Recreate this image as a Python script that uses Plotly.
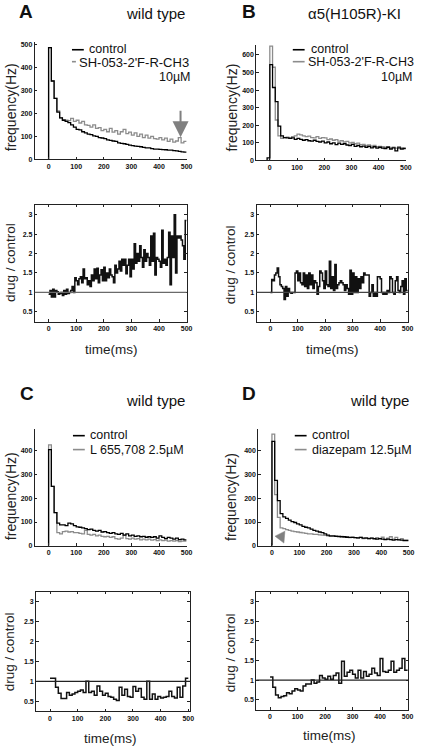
import plotly.graph_objects as go

# ---------------- data ----------------
bins10 = list(range(0, 500, 10))          # histogram bin starts (ms)
bins10_b = list(range(-10, 500, 10))      # panel B includes a pre-zero bin
bins5 = [i * 5 for i in range(100)]       # ratio bins for A and B (ms)
x_ticks = [0, 100, 200, 300, 400, 500]
ratio_ticks = [0.5, 1, 1.5, 2, 2.5, 3]
ratio_ticklabels = ["0.5", "1", "1.5", "2", "2.5", "3"]

a_control = [485, 340, 265, 205, 180, 170, 165, 160, 150, 140, 130, 128, 120, 115, 110, 108, 102, 100, 95, 93,
             90, 85, 83, 80, 78, 72, 70, 68, 65, 62, 60, 58, 57, 55, 52, 50, 50, 47, 45, 45,
             44, 43, 42, 40, 40, 38, 37, 35, 33, 32]
a_drug = [485, 340, 265, 210, 180, 172, 170, 168, 178, 165, 170, 158, 165, 150, 148, 140, 150, 135, 138, 125,
          130, 120, 135, 118, 125, 110, 120, 130, 112, 118, 105, 115, 100, 110, 95, 105, 92, 100, 90, 88,
          95, 85, 92, 78, 88, 75, 80, 95, 72, 78]
a_ratio = [0.95, 1.05, 0.88, 1.08, 0.88, 1.05, 1.02, 0.95, 0.97, 1.0,
           0.92, 1.05, 0.95, 1.08, 0.97, 1.0, 1.05, 1.15, 1.0, 1.38,
           1.3, 1.2, 1.35, 1.4, 1.25, 1.6, 1.35, 1.38, 1.2, 1.3,
           1.15, 1.45, 1.3, 1.6, 1.35, 1.62, 1.25, 1.45, 1.58, 1.3,
           1.65, 1.3, 1.5, 1.38, 1.6, 1.45, 1.4, 1.25, 1.7, 1.5,
           1.6, 1.8, 1.55, 1.85, 1.7, 1.85, 1.48, 1.7, 1.85, 1.4,
           1.85, 1.6, 2.25, 1.75, 2.0, 1.8, 2.2, 1.9, 1.65, 2.1,
           1.8, 2.0, 1.9, 1.7, 2.45, 1.8, 2.52, 1.45, 1.9, 1.85,
           1.8, 1.65, 2.6, 1.75, 1.85, 1.7, 1.9, 2.55, 1.2, 2.45,
           1.9, 3.0, 1.5, 2.45, 2.4, 2.45, 2.35, 2.2, 1.85, 2.85]

b_control = [15, 545, 415, 335, 195, 140, 130, 128, 125, 128, 120, 125, 120, 115, 118, 112, 110, 115, 108, 105, 110,
             100, 105, 95, 100, 90, 98, 92, 95, 88, 85, 92, 80, 85, 78, 82, 75, 80, 72, 78, 70,
             75, 70, 68, 75, 65, 72, 55, 72, 65, 68]
b_drug = [0, 650, 530, 230, 140, 125, 130, 132, 128, 135, 140, 150, 145, 140, 135, 138, 130, 128, 135, 125, 130,
          128, 118, 122, 115, 118, 110, 112, 105, 108, 100, 102, 95, 98, 90, 92, 85, 88, 82, 85, 78,
          80, 78, 75, 78, 72, 75, 70, 78, 72, 70]
b_ratio = [1.0, 1.33, 1.3, 1.45, 1.5, 1.63, 1.4, 1.2, 1.15, 1.1,
           0.82, 1.15, 0.9, 1.1, 1.0, 0.98, 1.0, 1.0, 1.5, 1.55,
           1.3, 1.5, 1.25, 1.2, 1.5, 1.15, 1.45, 1.1, 1.5, 1.2,
           1.45, 1.1, 1.3, 1.25, 0.95, 1.15, 1.55, 1.5, 1.3, 1.1,
           1.55, 1.2, 1.15, 1.8, 1.1, 1.4, 1.05, 1.72, 1.1, 1.2,
           1.25, 1.3, 1.25, 1.2, 1.05, 1.2, 1.1, 0.95, 1.57, 0.95,
           1.5, 1.0, 1.4, 1.0, 1.35, 1.1, 1.4, 1.25, 1.5, 1.45,
           1.45, 1.45, 0.9, 1.0, 1.2, 0.9, 1.0, 0.9, 1.4, 1.4,
           1.35, 1.0, 0.95, 1.0, 0.95, 1.05, 1.0, 1.4, 1.35, 1.0,
           0.95, 1.3, 1.4, 1.05, 1.0, 1.15, 1.3, 0.95, 1.35, 1.05]

c_control = [405, 250, 140, 95, 88, 88, 85, 95, 92, 85, 80, 78, 75, 72, 68, 70, 65, 62, 65, 58,
             60, 55, 52, 55, 50, 48, 52, 45, 50, 42, 45, 40, 42, 38, 40, 36, 38, 35, 38, 32,
             42, 35, 30, 35, 32, 28, 32, 26, 28, 25]
c_drug = [425, 250, 140, 55, 50, 60, 62, 58, 60, 55, 55, 52, 50, 65, 48, 45, 48, 42, 45, 40,
          38, 40, 35, 38, 30, 28, 32, 45, 30, 28, 32, 28, 30, 25, 28, 25, 28, 24, 26, 22,
          25, 22, 24, 20, 22, 20, 22, 18, 20, 20]
c_ratio = [1.08, 1.08, 0.85, 0.7, 0.57, 0.57, 0.72, 0.65, 0.68, 0.72, 0.75, 0.78, 0.72, 1.0, 0.72,
           0.75, 0.65, 0.88, 0.75, 0.65, 0.7, 0.62, 0.6, 0.55, 0.52, 0.85, 0.65, 0.8, 0.62, 0.6,
           0.87, 0.75, 0.82, 0.6, 0.55, 1.0, 0.55, 0.68, 0.55, 0.62, 0.58, 0.6, 0.62, 0.75, 0.62,
           0.58, 0.85, 0.6, 0.88, 1.08]

d_control = [440, 275, 190, 135, 122, 115, 108, 102, 98, 92, 88, 82, 78, 75, 70, 65, 62, 58, 55, 50,
             45, 42, 42, 40, 40, 38, 38, 36, 35, 35, 34, 33, 35, 32, 32, 30, 32, 30, 28, 30,
             28, 26, 28, 26, 24, 26, 25, 24, 22, 22]
d_drug = [470, 215, 120, 75, 72, 68, 65, 62, 60, 58, 56, 54, 52, 50, 50, 48, 48, 46, 45, 44,
          42, 40, 40, 42, 38, 40, 36, 38, 34, 36, 34, 32, 35, 30, 34, 30, 32, 28, 34, 30,
          36, 28, 32, 38, 28, 35, 26, 30, 25, 25]
d_ratio = [1.08, 0.82, 0.62, 0.55, 0.58, 0.6, 0.68, 0.65, 0.72, 0.78, 0.75, 0.72, 0.85, 0.9, 0.9,
           1.0, 0.92, 0.95, 1.12, 1.05, 1.02, 1.1, 1.02, 1.12, 1.18, 0.92, 1.48, 1.1, 1.2, 1.25,
           1.15, 1.05, 1.25, 1.05, 1.22, 1.1, 1.15, 1.3, 1.18, 1.12, 1.55, 1.22, 1.2, 1.25, 1.48,
           1.2, 1.25, 1.3, 1.55, 1.25]

# ---------------- helpers ----------------
W, H = 423, 750
FONT = "Liberation Sans, Arial, Helvetica, sans-serif"
BLACK = "#000000"
GRAY = "#8c8c8c"


def px(x):
    return x / W


def py(y):
    return 1 - y / H


def hist_xy(starts, vals, end=500):
    return [starts[0]] + list(starts) + [end], [0] + list(vals) + [vals[-1]]


def ratio_xy(starts, vals, end=500):
    return list(starts) + [end], list(vals) + [vals[-1]]


fig = go.Figure()


def add_step(x, y, color, width, ax):
    fig.add_trace(go.Scatter(x=x, y=y, mode="lines", line=dict(color=color, width=width, shape="hv"),
                             xaxis="x" + ax, yaxis="y" + ax, showlegend=False, hoverinfo="skip"))


# panel A
x, y = hist_xy(bins10, a_drug); add_step(x, y, GRAY, 1.3, "")
x, y = hist_xy(bins10, a_control); add_step(x, y, BLACK, 1.3, "")
x, y = ratio_xy(bins5, a_ratio); add_step(x, y, "#111111", 1.5, "2")
# panel B
x, y = hist_xy(bins10_b, b_drug); add_step(x, y, GRAY, 1.3, "3")
x, y = hist_xy(bins10_b, b_control); add_step(x, y, BLACK, 1.3, "3")
x, y = ratio_xy(bins5, b_ratio); add_step(x, y, "#111111", 1.5, "4")
# panel C
x, y = hist_xy(bins10, c_drug); add_step(x, y, GRAY, 1.3, "5")
x, y = hist_xy(bins10, c_control); add_step(x, y, BLACK, 1.3, "5")
x, y = ratio_xy(bins10, c_ratio); add_step(x, y, "#111111", 1.5, "6")
# panel D
x, y = hist_xy(bins10, d_drug); add_step(x, y, GRAY, 1.3, "7")
x, y = hist_xy(bins10, d_control); add_step(x, y, BLACK, 1.3, "7")
x, y = ratio_xy(bins10, d_ratio); add_step(x, y, "#111111", 1.5, "8")

tickfont = dict(size=7, family=FONT, color="#111111", weight="bold")


def axis(domain, rng, anchor, box, tickvals, ticktext=None):
    d = dict(domain=domain, range=rng, anchor=anchor, showline=True, linecolor="#222222", linewidth=1,
             mirror="ticks" if box else False, ticks="inside", ticklen=2.5, tickwidth=1, tickcolor="#222222",
             tickvals=tickvals, tickfont=tickfont, showgrid=False, zeroline=False, fixedrange=True)
    if ticktext is not None:
        d["ticktext"] = ticktext
    return d


layout = dict(width=W, height=H, margin=dict(l=0, r=0, t=0, b=0), paper_bgcolor="white",
              plot_bgcolor="white", showlegend=False)

# domains (pixel -> paper)
specs = {
    "": ((35.3, 189.3), (41, 159.3), [-50, 500], [0, 510], False, [0, 100, 200, 300, 400, 500]),
    "2": ((35.3, 189.3), (205, 322.3), [-50, 500], [0.25, 3.25], True, None),
    "3": ((259.9, 411.7), (44, 160.3), [-50, 500], [0, 658], False, [0, 100, 200, 300, 400, 500, 600]),
    "4": ((260.3, 414.3), (205, 322.3), [-50, 503], [0.25, 3.25], True, None),
    "5": ((35.3, 189.3), (430.7, 547.7), [-50, 500], [0, 490], False, [0, 100, 200, 300, 400]),
    "6": ((36.7, 192.7), (594, 714), [-50, 506], [0.25, 3.25], True, None),
    "7": ((262, 414.5), (430.7, 547.7), [-50, 500], [0, 490], False, [0, 100, 200, 300, 400]),
    "8": ((260, 414.3), (594, 712.3), [-50, 503], [0.25, 3.25], True, None),
}
for k, (xs, ys, xr, yr, box, yt) in specs.items():
    xd = [px(xs[0]), px(xs[1])]
    yd = [py(ys[1]), py(ys[0])]
    layout["xaxis" + k] = axis(xd, xr, "y" + k, box, x_ticks)
    if box:
        layout["yaxis" + k] = axis(yd, yr, "x" + k, box, ratio_ticks, ratio_ticklabels)
    else:
        layout["yaxis" + k] = axis(yd, yr, "x" + k, box, yt)

fig.update_layout(**layout)

# reference line at ratio = 1
for k, col in [("2", "#6a6a6a"), ("4", "#444444"), ("6", "#222222"), ("8", "#222222")]:
    fig.add_shape(type="line", xref="x" + k + " domain", yref="y" + k, x0=0, x1=1, y0=1, y1=1,
                  line=dict(color=col, width=1.2))

ann = []


def text(x, y, s, size, anchor="center", angle=0, bold=False, color="#111111"):
    ann.append(dict(x=px(x), y=py(y), xref="paper", yref="paper", text=s, showarrow=False,
                    xanchor=anchor, yanchor="middle", textangle=angle,
                    font=dict(size=size, family=FONT, color=color, weight="bold" if bold else "normal")))


# panel letters and titles
text(26.7, 11, "A", 19, bold=True)
text(252.7, 11, "B", 19, bold=True)
text(27.5, 395, "C", 19, bold=True)
text(252.7, 395, "D", 19, bold=True)
text(158, 13, "wild type", 15)
text(360, 13, "α5(H105R)-KI", 15)
text(157.5, 402, "wild type", 15)
text(384.7, 402, "wild type", 15)

# axis titles
for (x0, y0) in [(12, 107), (235, 107.5), (12, 498), (235, 499)]:
    text(x0, y0, "frequency(Hz)", 14, angle=-90, color="#222222")
for (x0, y0) in [(10, 262.5), (234, 265), (10, 654), (234, 655)]:
    text(x0, y0, "drug / control", 13.5, angle=-90, color="#222222")
for (x0, y0) in [(113, 350), (337.7, 350), (111.7, 741), (334.3, 738)]:
    text(x0, y0, "time(ms)", 13.5, color="#222222")

# legends
legend_lines = [
    (73, 85, 49, BLACK), (73, 77, 61, GRAY),
    (297, 309, 49, BLACK), (297, 309, 61, GRAY),
    (74, 86, 437, BLACK), (74, 86, 451, GRAY),
    (299, 311, 437, BLACK), (299, 311, 451, GRAY),
]
for x0, x1, yy, col in legend_lines:
    fig.add_shape(type="line", xref="paper", yref="paper", x0=px(x0), x1=px(x1), y0=py(yy), y1=py(yy),
                  line=dict(color=col, width=1.6))

text(88, 48.5, "control", 12.5, anchor="left")
text(78, 61.5, "SH-053-2'F-R-CH3", 13, anchor="left")
text(196, 76, "10µM", 12.5, anchor="right")
text(313, 48.5, "control", 12.5, anchor="left")
text(422, 61.5, "SH-053-2'F-R-CH3", 12.5, anchor="right")
text(421, 76, "10µM", 12.5, anchor="right")
text(89, 436.5, "control", 12.5, anchor="left")
text(89, 451, "L 655,708 2.5µM", 12.5, anchor="left")
text(314, 436.5, "control", 12.5, anchor="left")
text(314, 451, "diazepam 12.5µM", 12.5, anchor="left")

# arrow in panel A
ann.append(dict(x=478, y=96, xref="x", yref="y", ax=0, ay=-28, text="", showarrow=True,
                arrowhead=2, arrowsize=1.6, arrowwidth=2, arrowcolor="#808080"))
fig.update_layout(annotations=ann)

# arrowhead in panel D
fig.add_shape(type="path", xref="paper", yref="paper",
              path=f"M {px(279)} {py(538)} L {px(289)} {py(533)} L {px(288)} {py(545)} Z",
              fillcolor="#808080", line=dict(color="#808080", width=0.5))

fig.write_html("out.html", config={"displayModeBar": False, "staticPlot": True},
               post_script="document.body.style.margin='0';document.body.style.overflow='hidden';")
